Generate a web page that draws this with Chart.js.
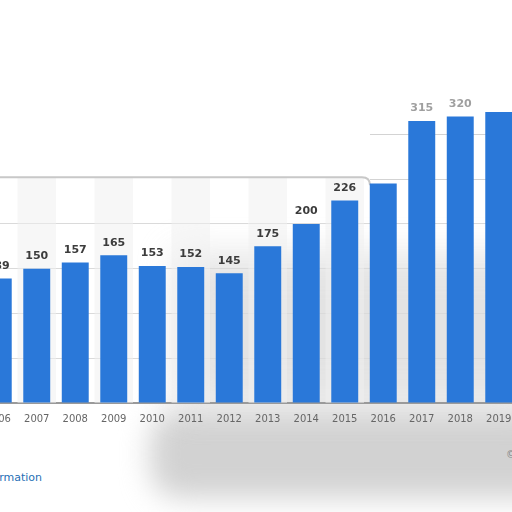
<!DOCTYPE html>
<html>
<head>
<meta charset="utf-8">
<script src="https://cdn.jsdelivr.net/npm/chart.js@4/dist/chart.umd.min.js"></script>
<style>
  html, body { margin: 0; padding: 0; width: 512px; height: 512px; overflow: hidden; background: #fff; }
  #haze { position: absolute; left: 150px; top: 410px; width: 420px; height: 88px; background: #d2d2d2; filter: blur(14px); border-radius: 30px; }
  #haze2 { position: absolute; left: 175px; top: 255px; width: 360px; height: 150px; background: #d8d8d8; filter: blur(18px); opacity: 0.7; }
  #box { position: absolute; left: -21px; top: 0; width: 539px; height: 433px; }
  #info { position: absolute; right: 470px; top: 471px; font: 11px "DejaVu Sans", sans-serif; color: #1f6fb5; white-space: nowrap; }
  #copy { position: absolute; left: 506px; top: 449px; font: 10px "DejaVu Sans", sans-serif; color: #888; }
</style>
</head>
<body>
<div id="haze"></div>
<div id="haze2"></div>
<div id="box"><canvas id="myChart"></canvas></div>
<div id="info">Additional Information</div>
<div id="copy">©</div>
<script>
const years = ['2006', '2007', '2008', '2009', '2010', '2011', '2012', '2013', '2014', '2015', '2016', '2017', '2018', '2019'];
const values = [139, 150, 157, 165, 153, 152, 145, 175, 200, 226, 245, 315, 320, 325];
const gridTicks = [50, 100, 150, 200];

// panel outline + alternating stripes behind the bars
const panel = {
    id: 'panel',
    beforeDatasetsDraw(chart) {
        const ctx = chart.ctx;
        const x = chart.scales.x;
        const y = chart.scales.y;
        const top = y.getPixelForValue(252);
        const bottom = y.getPixelForValue(0);
        const step = x.getPixelForValue(1) - x.getPixelForValue(0);
        ctx.save();
        for (let i = 0; i < 10; i++) {
            if (i % 2 == 1) {
                ctx.fillStyle = 'rgba(240,240,240,0.5)';
                ctx.fillRect(x.getPixelForValue(i) - step / 2, top, step, bottom - top);
            }
        }
        ctx.strokeStyle = '#c8c8c8';
        ctx.lineWidth = 2;
        const right = x.getPixelForValue(9) + step / 2 + 6;
        ctx.beginPath();
        ctx.moveTo(10, bottom);
        ctx.lineTo(10, top + 8);
        ctx.quadraticCurveTo(10, top, 18, top);
        ctx.lineTo(right - 8, top);
        ctx.quadraticCurveTo(right, top, right, top + 8);
        ctx.stroke();
        // faint grid lines between the tall bars on the right
        ctx.strokeStyle = 'rgba(200,200,200,0.8)';
        ctx.lineWidth = 1;
        [250, 300].forEach(function (v) {
            const py = Math.round(y.getPixelForValue(v)) + 0.5;
            ctx.beginPath();
            ctx.moveTo(right, py);
            ctx.lineTo(chart.chartArea.right, py);
            ctx.stroke();
        });
        ctx.restore();
    }
};

// value labels above the bars
const barLabels = {
    id: 'barLabels',
    afterDatasetsDraw(chart) {
        const ctx = chart.ctx;
        const meta = chart.getDatasetMeta(0);
        ctx.save();
        ctx.font = 'bold 11px "DejaVu Sans", sans-serif';
        ctx.textAlign = 'center';
        ctx.textBaseline = 'bottom';
        meta.data.forEach(function (bar, i) {
            if (i == 10 || i == 13) return;
            ctx.fillStyle = i >= 11 ? 'rgba(80,80,80,0.55)' : '#3c3c3c';
            ctx.fillText(values[i], bar.x, bar.y - 7);
        });
        ctx.restore();
    }
};

const ctx = document.getElementById('myChart');
new Chart(ctx, {
    type: 'bar',
    data: {
        labels: years,
        datasets: [{
            data: values,
            backgroundColor: '#2a78d9',
            barPercentage: 0.7,
            categoryPercentage: 1
        }]
    },
    options: {
        responsive: true,
        maintainAspectRatio: false,
        animation: false,
        layout: { padding: { top: 0, bottom: 6, left: 0, right: 0 } },
        plugins: { legend: { display: false }, tooltip: { enabled: false } },
        scales: {
            x: {
                grid: { display: false },
                border: { color: '#9a9a9a', width: 2 },
                ticks: { color: '#666', font: { size: 10, family: 'DejaVu Sans' }, padding: 2, maxRotation: 0 }
            },
            y: {
                min: 0,
                max: 450,
                display: true,
                ticks: { display: false, stepSize: 50 },
                border: { display: false },
                grid: {
                    drawTicks: false,
                    color: function (c) {
                        return gridTicks.includes(c.tick.value) ? '#dadada' : 'rgba(0,0,0,0)';
                    },
                    lineWidth: 1
                },
                afterFit: function (s) { s.width = 0; }
            }
        }
    },
    plugins: [panel, barLabels]
});
</script>
</body>
</html>
